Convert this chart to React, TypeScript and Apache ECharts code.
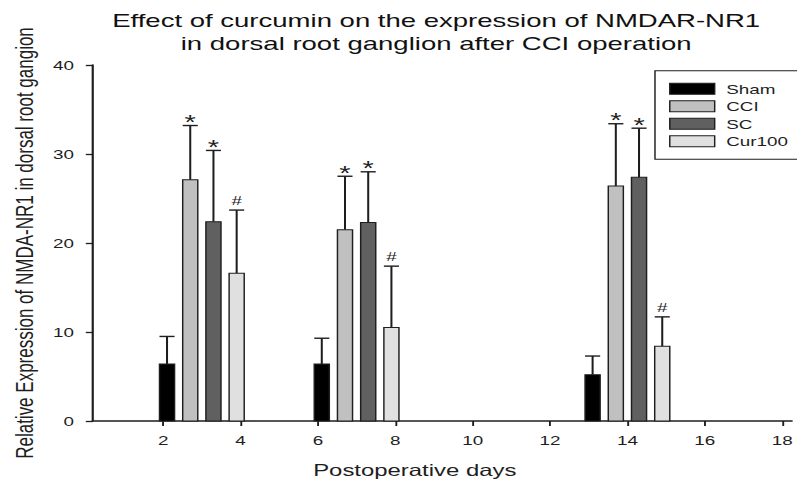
import React, { useEffect, useRef } from 'react';
import * as echarts from 'echarts';

// Postoperative day of each bar group (group centre)
const days = [3, 7, 14];
const groupNames = ['Sham', 'CCI', 'SC', 'Cur100'];
const shamMean = [6.4, 6.4, 5.2];
const shamSD = [3.1, 2.9, 2.1];
const cciMean = [27.1, 21.5, 26.4];
const cciSD = [6.1, 6.0, 7.0];
const scMean = [22.4, 22.3, 27.4];
const scSD = [8.0, 5.7, 5.5];
const curMean = [16.6, 10.5, 8.4];
const curSD = [7.1, 6.9, 3.3];
const markers = ['', '*', '*', '#'];
const xTickValues = [2, 4, 6, 8, 10, 12, 14, 16, 18];

const colors = ['#000000', '#c0c0c0', '#606060', '#e0e0e0'];
const means = [shamMean, cciMean, scMean, curMean];
const sds = [shamSD, cciSD, scSD, curSD];

const STRETCH = 797 / 550;
const FONT = '"Liberation Sans", Arial, Helvetica, sans-serif';
const INK = '#1e1e1e';

export default function App() {
  const ref = useRef<HTMLDivElement>(null);
  useEffect(() => {
    if (!ref.current) return;
    const chart = echarts.init(ref.current, undefined, { renderer: 'svg' });
    const barW = 0.39;
    const step = 0.6;

    const series = groupNames.map((name, si) => ({
      name,
      type: 'custom',
      itemStyle: { color: colors[si], borderColor: INK, borderWidth: 1 },
      data: days.map((d, i) => [d, means[si][i], sds[si][i]]),
      renderItem: (params: any, api: any) => {
        const day = api.value(0);
        const v = api.value(1);
        const e = api.value(2);
        const xv = day + (si - 1.5) * step;
        const base = api.coord([xv, 0]);
        const top = api.coord([xv, v]);
        const et = api.coord([xv, v + e]);
        const w = api.size([barW, 0])[0];
        const children: any[] = [
          {
            type: 'line',
            shape: { x1: top[0], y1: top[1], x2: top[0], y2: et[1] },
            style: { stroke: INK, lineWidth: 1.4 },
          },
          {
            type: 'line',
            shape: { x1: top[0] - w / 2, y1: et[1], x2: top[0] + w / 2, y2: et[1] },
            style: { stroke: INK, lineWidth: 1.4 },
          },
          {
            type: 'rect',
            shape: { x: base[0] - w / 2, y: top[1], width: w, height: base[1] - top[1] },
            style: { fill: colors[si], stroke: INK, lineWidth: 1 },
          },
        ];
        const m = markers[si];
        if (m) {
          const isStar = m === '*';
          children.push({
            type: 'text',
            x: top[0],
            y: isStar ? et[1] - 3.6 : et[1] - 9.7,
            style: {
              text: m,
              fill: INK,
              font: `${isStar ? 20 : 13}px ${FONT}`,
              align: 'center',
              verticalAlign: 'middle',
            },
          });
        }
        return { type: 'group', children };
      },
    }));

    chart.setOption({
      animation: false,
      backgroundColor: '#ffffff',
      textStyle: { fontFamily: FONT },
      grid: { left: 63.7, right: 0, top: 65, bottom: 60.7, containLabel: false },
      graphic: [
        {
          type: 'text',
          x: 301,
          y: 9,
          style: {
            text: 'Effect of curcumin on the expression of NMDAR-NR1\nin dorsal root ganglion after CCI operation',
            font: `19px ${FONT}`,
            fill: '#111',
            align: 'center',
            verticalAlign: 'top',
            lineHeight: 23,
          },
        },
      ],
      legend: {
        orient: 'vertical',
        left: 452,
        top: 70.7,
        data: groupNames,
        icon: 'rect',
        itemWidth: 31,
        itemHeight: 11,
        itemGap: 3.5,
        padding: [11, 20, 11, 9.7],
        borderColor: INK,
        borderWidth: 1,
        selectedMode: false,
        itemStyle: { borderColor: INK, borderWidth: 1 },
        textStyle: { fontSize: 13, color: INK, fontFamily: FONT, lineHeight: 14, padding: [0, 0, 0, 3] },
      },
      xAxis: {
        type: 'value',
        min: 0.18,
        max: 18.25,
        name: 'Postoperative days',
        nameLocation: 'middle',
        nameGap: 40,
        nameTextStyle: { fontSize: 16.5, color: INK, fontFamily: FONT, padding: [0, 38, 0, 0] },
        axisLine: { show: true, onZero: false, lineStyle: { color: INK, width: 1.5 } },
        axisTick: { show: true, inside: false, length: 5, customValues: xTickValues, lineStyle: { color: INK, width: 1.3 } },
        axisLabel: { customValues: xTickValues, fontSize: 13, color: INK, margin: 13, fontFamily: FONT },
        splitLine: { show: false },
      },
      yAxis: {
        type: 'value',
        min: 0,
        max: 40,
        interval: 10,
        name: 'Relative Expression of NMDA-NR1 in dorsal root gangion',
        nameLocation: 'middle',
        nameGap: 39,
        nameTextStyle: { fontSize: 17, color: INK, fontFamily: FONT },
        axisLine: { show: true, lineStyle: { color: INK, width: 1.5 } },
        axisTick: { show: true, inside: false, length: 4.8, lineStyle: { color: INK, width: 1.3 } },
        axisLabel: { fontSize: 13, color: INK, margin: 13, fontFamily: FONT },
        splitLine: { show: false },
      },
      series,
    });
    return () => chart.dispose();
  }, []);

  return (
    <div
      ref={ref}
      style={{
        position: 'fixed',
        left: 0,
        top: 0,
        width: 550,
        height: 483,
        transform: `scaleX(${STRETCH})`,
        transformOrigin: '0 0',
        background: '#fff',
      }}
    />
  );
}
